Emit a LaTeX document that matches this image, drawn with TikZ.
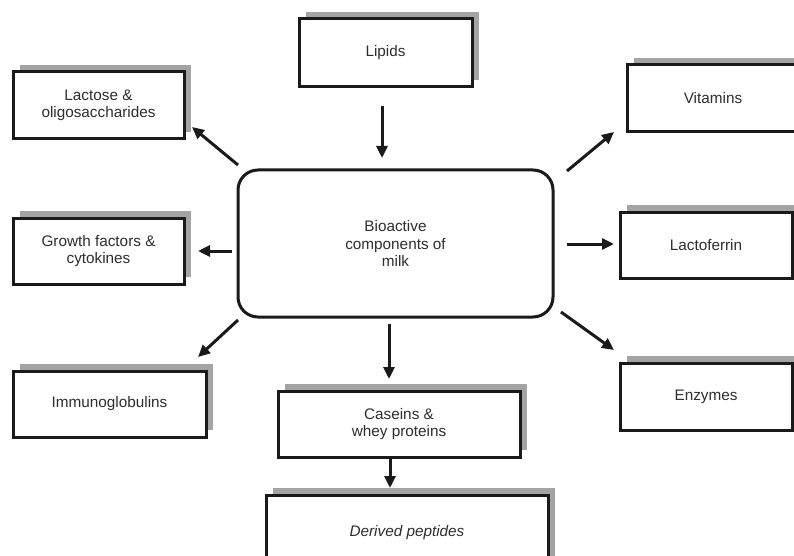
\documentclass[tikz,border=0pt]{standalone}
\usepackage{fontspec}
\setmainfont{Liberation Sans}
\usetikzlibrary{arrows.meta,shadows}
\definecolor{txt}{HTML}{2E2E2E}
\definecolor{edge}{HTML}{1A1A1A}
\definecolor{shade}{HTML}{A4A4A4}
\tikzset{
  box/.style={draw=edge, line width=3pt, fill=white, rectangle, outer sep=0pt,
    align=center, text=txt, font=\fontsize{15.3}{17.5}\selectfont,
    drop shadow={shadow xshift=7pt, shadow yshift=7pt, fill=shade, opacity=1}},
  hub/.style={draw=edge, line width=3pt, fill=white, rectangle, rounded corners=20pt,
    outer sep=0pt, align=center, text=txt, font=\fontsize{15.3}{17.5}\selectfont},
  arr/.style={draw=edge, line width=3pt, -{Triangle[length=12pt,width=11pt]}},
}
\begin{document}
\begin{tikzpicture}[x=1pt,y=-1pt]
\clip (0,0) rectangle (794,556);
\fill[white] (0,0) rectangle (794,556);
\node[hub, minimum width=315pt, minimum height=147pt] (bio) at (395.5,243.5) {Bioactive\\components of\\milk};
\node[box, minimum width=173pt, minimum height=68pt] (lipids) at (385.5,53) {Lipids};
\node[box, minimum width=171pt, minimum height=67pt] (lactose) at (98.5,105.5) {Lactose \&\\oligosaccharides};
\node[box, minimum width=172pt, minimum height=67pt] (vitamins) at (713,98.5) {Vitamins};
\node[box, minimum width=171pt, minimum height=66pt] (growth) at (98.5,251) {Growth factors \&\\cytokines};
\node[box, minimum width=172pt, minimum height=66pt] (lactoferrin) at (706,245) {Lactoferrin};
\node[box, minimum width=193pt, minimum height=66pt] (immuno) at (109.5,404) {Immunoglobulins};
\node[box, minimum width=172pt, minimum height=67pt] (enzymes) at (706,396.5) {Enzymes};
\node[box, minimum width=242pt, minimum height=66pt] (caseins) at (399,424) {Caseins \&\\whey proteins};
\node[box, minimum width=282pt, minimum height=75pt] (derived) at (407,532.5) {\itshape Derived peptides};
\draw[arr] ([shift={(-3.5,19)}]lipids.south) -- ([shift={(-13.5,-12)}]bio.north);
\draw[arr] ([shift={(0,-5)}]bio.north west) -- ([shift={(8,-12)}]lactose.south east);
\draw[arr] ([shift={(14,1)}]bio.north east) -- ([shift={(-13,0)}]vitamins.south west);
\draw[arr] ([shift={(-6,7.5)}]bio.west) -- ([shift={(14,0)}]growth.east);
\draw[arr] ([shift={(14,0.5)}]bio.east) -- ([shift={(-6,-1)}]lactoferrin.west);
\draw[arr] ([shift={(0,3)}]bio.south west) -- ([shift={(-8,-14)}]immuno.north east);
\draw[arr] ([shift={(8,-5)}]bio.south east) -- ([shift={(-6,-13)}]enzymes.north west);
\draw[arr] ([shift={(-6.5,7)}]bio.south) -- ([shift={(-10,-12)}]caseins.north);
\draw[arr] ([shift={(-9,0)}]caseins.south) -- ([shift={(-17,-7)}]derived.north);
\end{tikzpicture}
\end{document}
